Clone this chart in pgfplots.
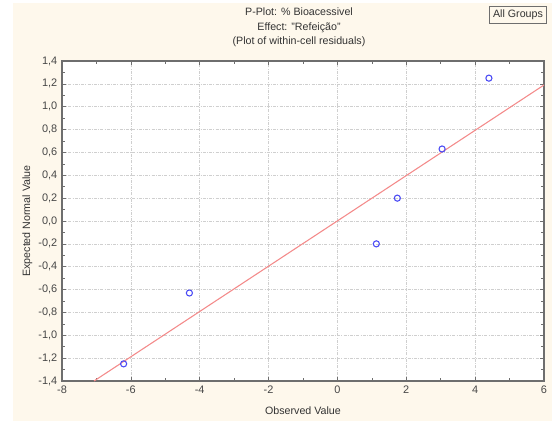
\documentclass[border=0pt]{standalone}
\usepackage{pgfplots}
\pgfplotsset{compat=1.18}
\usepackage{fontspec}
\setmainfont{Liberation Sans}
\definecolor{cream}{HTML}{FEF8EC}
\definecolor{ptblue}{HTML}{4A4AF5}
\definecolor{fitred}{HTML}{F48A8A}
\definecolor{framegray}{HTML}{6E6E6E}
\begin{document}
\begin{tikzpicture}[x=0.75pt,y=0.75pt]
% page: 552 x 421 px, axis box from (62,61) to (544,381); origin at axis south west
\fill[white] (-62,-40) rectangle (490,381);
\fill[cream] (-49,-40) rectangle (490,378);
\begin{axis}[
    name=ax,
    at={(0,0)}, anchor=south west,
    scale only axis,
    width=361.5pt, height=240pt,
    xmin=-8, xmax=6, ymin=-1.4, ymax=1.4,
    xtick={-8,-6,...,6},
    ytick={-1.4,-1.2,...,1.41},
    minor x tick num=1,
    minor y tick num=1,
    tick align=inside,
    major tick length=3pt, minor tick length=2pt,
    every tick/.style={framegray, line width=0.5pt},
    axis line style={framegray, line width=0.9pt},
    axis background/.style={fill=white},
    grid=major,
    major grid style={gray!38, dash pattern=on 2.2pt off 1pt on 0.6pt off 1pt, line width=0.4pt},
    tick label style={font=\fontsize{8.2}{9}\selectfont, text=black!72},
    /pgf/number format/assume math mode=true,
    yticklabel style={/pgf/number format/.cd, fixed, fixed zerofill, precision=1, use comma},
    xticklabel style={/pgf/number format/.cd, fixed, precision=0},
    xlabel={Observed Value},
    ylabel={Expected Normal Value},
    label style={font=\fontsize{8}{9}\selectfont, text=black!80},
    xlabel style={at={(axis description cs:0.5,0)}, anchor=center, yshift=-22.5pt},
    ylabel style={at={(axis description cs:0,0.5)}, anchor=center, yshift=26pt},
    clip=true,
]
\addplot[fitred, line width=0.8pt] coordinates {(-7.07,-1.4) (6,1.19)};
\addplot[only marks, mark=o, mark size=2.3pt, mark options={ptblue, line width=0.8pt}]
    coordinates {
    (-6.21,-1.25)
    (-4.30,-0.63)
    (1.13,-0.20)
    (1.74,0.20)
    (3.04,0.63)
    (4.40,1.25)
    };
\end{axis}
\node[align=center, font=\fontsize{8}{10.9}\selectfont, text=black!80, anchor=south]
    at ([xshift=-3pt, yshift=7pt]ax.north)
    {P-Plot: \% Bioacessivel\\Effect: "Refeição"\\(Plot of within-cell residuals)};
\node[draw=framegray, line width=0.6pt, fill=cream, inner sep=2.6pt,
      font=\fontsize{8}{9}\selectfont, text=black!80]
    at (456,366) {All Groups};
\end{tikzpicture}
\end{document}
